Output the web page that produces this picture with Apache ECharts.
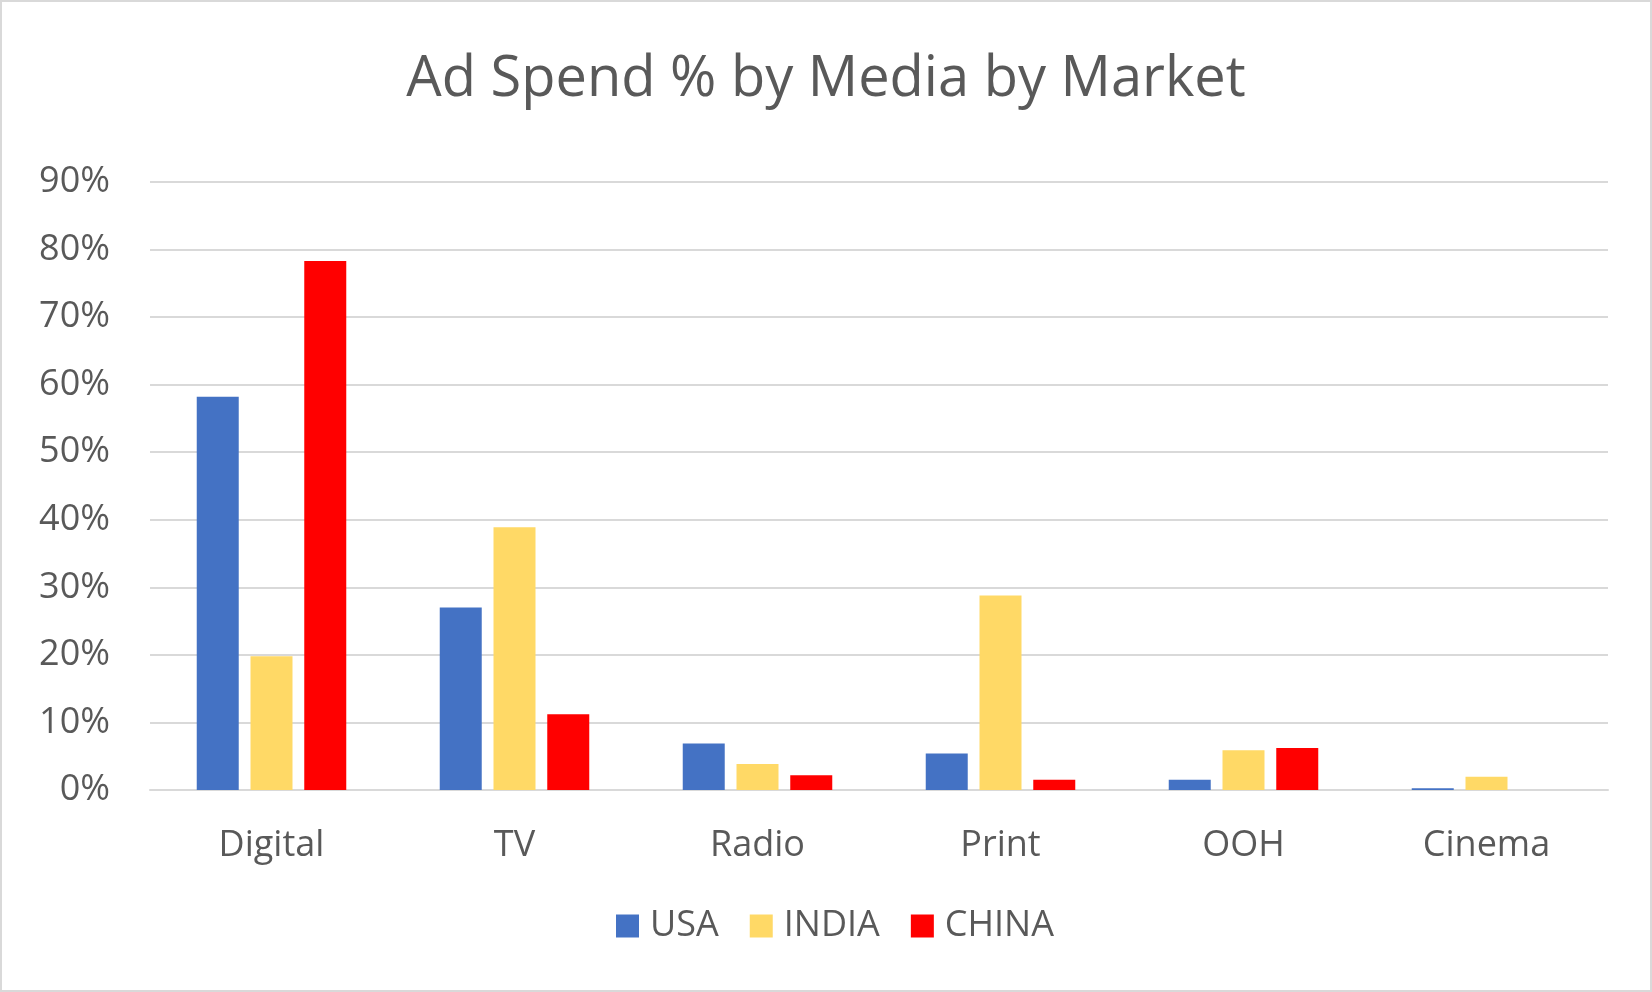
<!DOCTYPE html>
<html>
<head>
<meta charset="utf-8">
<script src="https://cdn.jsdelivr.net/npm/echarts@6/dist/echarts.min.js"></script>
<style>
html,body{margin:0;padding:0;background:#fff;}
#chart{width:1652px;height:992px;}
</style>
</head>
<body>
<div id="chart"></div>
<script>
const categories = ['Digital', 'TV', 'Radio', 'Print', 'OOH', 'Cinema'];
const usa   = [58.2, 27.0, 6.9, 5.4, 1.5, 0.25];
const india = [19.8, 38.9, 3.85, 28.8, 5.9, 1.95];
const china = [78.3, 11.2, 2.2, 1.5, 6.2, 0];
const seriesNames = ['USA', 'INDIA', 'CHINA'];
const yTicks = { min: 0, max: 90, interval: 10 };

const FONT = '"Open Sans", "Noto Sans", sans-serif';
const TXT = '#595959';

const chart = echarts.init(document.getElementById('chart'), null, { renderer: 'canvas' });
chart.setOption({
  backgroundColor: '#ffffff',
  animation: false,
  title: {
    text: 'Ad Spend % by Media by Market',
    left: 'center',
    top: 47,
    textStyle: { fontFamily: FONT, fontSize: 56, fontWeight: 'normal', color: TXT }
  },
  legend: {
    data: seriesNames,
    left: 611,
    top: 903,
    icon: 'rect',
    itemWidth: 23,
    itemHeight: 23,
    itemGap: 31,
    textStyle: { fontFamily: FONT, fontSize: 36, color: TXT, padding: [0, 0, 0, 6] }
  },
  grid: { left: 150, right: 44, top: 182, bottom: 202, containLabel: false },
  xAxis: {
    type: 'category',
    data: categories,
    axisTick: { show: false },
    axisLine: { show: true, lineStyle: { color: '#d9d9d9', width: 2 } },
    axisLabel: { fontFamily: FONT, fontSize: 36, color: TXT, margin: 38 }
  },
  yAxis: {
    type: 'value',
    min: yTicks.min,
    max: yTicks.max,
    interval: yTicks.interval,
    axisLine: { show: false },
    axisTick: { show: false },
    splitLine: { lineStyle: { color: '#d9d9d9', width: 2 } },
    axisLabel: { fontFamily: FONT, fontSize: 36, color: TXT, margin: 40, formatter: '{value}%' }
  },
  series: [
    { name: 'USA', type: 'bar', data: usa, barWidth: 42, barGap: '28%', itemStyle: { color: '#4472C4' } },
    { name: 'INDIA', type: 'bar', data: india, barWidth: 42, barGap: '28%', itemStyle: { color: '#FFD966' } },
    { name: 'CHINA', type: 'bar', data: china, barWidth: 42, barGap: '28%', itemStyle: { color: '#FF0000' } }
  ],
  graphic: [{
    type: 'rect',
    shape: { x: 1, y: 1, width: 1650, height: 990 },
    style: { fill: 'none', stroke: '#d9d9d9', lineWidth: 2 },
    silent: true
  }]
});
</script>
</body>
</html>
